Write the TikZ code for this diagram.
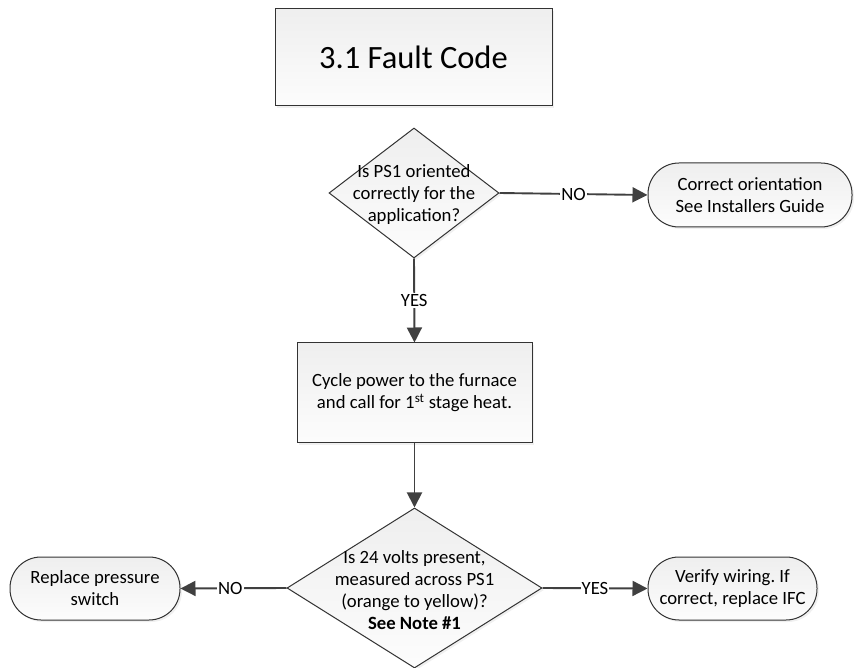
\documentclass[tikz,border=0pt]{standalone}
\usepackage{fontspec}
\setmainfont{Carlito}
\usetikzlibrary{shapes.geometric,arrows.meta,shadows}
\frenchspacing
\begin{document}
\begin{tikzpicture}[x=1pt,y=-1pt,
  every node/.style={font=\fontsize{18.7}{22}\selectfont, text=black},
  shp/.style={draw=black!80, line width=1pt, top color=gray!13, bottom color=gray!2,
    drop shadow={shadow xshift=2pt, shadow yshift=-2pt, fill=gray!12, opacity=1}},
  box/.style={shp, rectangle, inner sep=0pt, align=center},
  dia/.style={shp, diamond, inner sep=0pt},
  term/.style={shp, rectangle, rounded corners=31pt, inner sep=0pt, align=center},
  txt/.style={align=center, inner sep=0pt},
  arr/.style={draw=black!75, line width=1.9pt, -{Triangle[length=15pt,width=15pt]}},
  lbl/.style={fill=white, inner sep=1pt}
]
\useasboundingbox (0,0) rectangle (855,668);

\node[box, minimum width=277pt, minimum height=97pt, font=\fontsize{32.5}{38}\selectfont] (title) at (413.5,57.5) {3.1 Fault Code};

\node[dia, minimum width=170pt, minimum height=130pt] (d1) at (414,193) {};
\node[txt] (d1t) at (414,195) {Is PS1 oriented\\correctly for the\\application?};

\node[term, minimum width=204pt, minimum height=64pt] (t1) at (750,195) {Correct orientation\\See Installers Guide};

\node[box, minimum width=235pt, minimum height=100pt] (p1) at (414.5,393) {Cycle power to the furnace\\and call for 1\textsuperscript{st} stage heat.};

\node[dia, minimum width=255pt, minimum height=160pt] (d2) at (414.5,588) {};
\node[txt] (d2t) at (414.5,590) {Is 24 volts present,\\measured across PS1\\(orange to yellow)?\\\textbf{See Note \#1}};

\node[term, minimum width=170pt, minimum height=63pt] (t2) at (95,588.5) {Replace pressure\\switch};
\node[term, minimum width=169pt, minimum height=63pt] (t3) at (732.5,588.5) {Verify wiring. If\\correct, replace IFC};

\draw[arr] (d1.east) -- node[lbl]{NO} (t1.west);
\draw[arr] (d1.south) -- node[lbl]{YES} (p1.north);
\draw[arr] (p1.south) -- (d2.north);
\draw[arr] (d2.west) -- node[lbl, pos=0.53]{NO} (t2.east);
\draw[arr] (d2.east) -- node[lbl]{YES} (t3.west);
\end{tikzpicture}
\end{document}
